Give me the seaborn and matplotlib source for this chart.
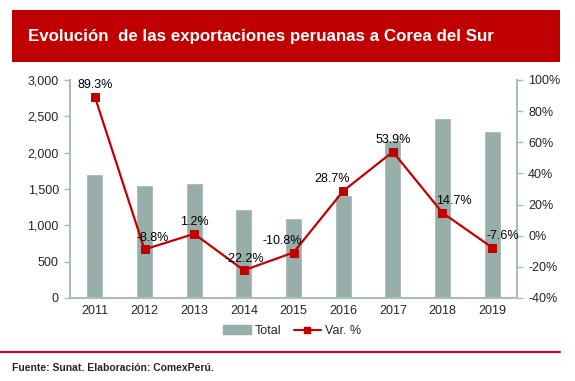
import numpy as np
import pandas as pd
import seaborn as sns
import matplotlib.pyplot as plt
from matplotlib.patches import Rectangle, Patch
from matplotlib.lines import Line2D

years = ['2011', '2012', '2013', '2014', '2015', '2016', '2017', '2018', '2019']
total = [1705, 1555, 1580, 1225, 1095, 1415, 2175, 2475, 2295]
var_pct = [89.3, -8.8, 1.2, -22.2, -10.8, 28.7, 53.9, 14.7, -7.6]
var_labels = ['89.3%', '-8.8%', '1.2%', '-22.2%', '-10.8%', '28.7%', '53.9%', '14.7%', '-7.6%']

BAR = '#97AEAA'
AXC = '#A8BCB8'
RED = '#C00000'

sns.set_theme(style='white')
plt.rcParams['font.family'] = ['Liberation Sans', 'DejaVu Sans']

df = pd.DataFrame({'Year': years, 'Total': total, 'Var': var_pct})

fig = plt.figure(figsize=(5.75, 3.81), dpi=100)
ax = fig.add_axes([70 / 575, 1 - 298 / 381, 447 / 575, 218 / 381])

sns.barplot(data=df, x='Year', y='Total', color=BAR, width=0.34, saturation=1, ax=ax)
ax.set_ylim(0, 3000)
ax.set_xlim(-0.5, len(years) - 0.5)
ax.set_yticks(range(0, 3001, 500))
ax.set_yticklabels([f'{v:,}' for v in range(0, 3001, 500)], fontsize=9)
ax.set_xlabel('')
ax.set_ylabel('')
ax.tick_params(axis='x', length=0, labelsize=9, pad=5)
ax.set_xticks(np.arange(len(years) + 1) - 0.5, minor=True)
ax.tick_params(axis='x', which='minor', length=4, color=AXC, width=1, direction='out')
ax.tick_params(axis='y', length=4, color=AXC, width=1, direction='out', pad=4)
for s in ['top', 'right']:
    ax.spines[s].set_visible(False)
for s in ['left', 'bottom']:
    ax.spines[s].set_color(AXC)
    ax.spines[s].set_linewidth(1.5)

ax2 = ax.twinx()
sns.lineplot(x=np.arange(len(years)), y=df['Var'], color=RED, marker='s', markersize=6,
             markeredgecolor=RED, linewidth=1.6, ax=ax2)
ax2.set_ylim(-40, 100)
ax2.set_yticks(range(-40, 101, 20))
ax2.set_yticklabels([f'{v}%' for v in range(-40, 101, 20)], fontsize=9)
ax2.set_ylabel('')
ax2.tick_params(axis='y', length=4, color=AXC, width=1, direction='out', pad=4)
for s in ['top', 'left', 'bottom']:
    ax2.spines[s].set_visible(False)
ax2.spines['right'].set_color(AXC)
ax2.spines['right'].set_linewidth(1.5)

offsets = [(0, 4), (6, 4), (0, 4), (0, 4), (-8, 4), (-8, 4), (0, 4), (8, 4), (8, 4)]
for i, (v, lab) in enumerate(zip(var_pct, var_labels)):
    ax2.annotate(lab, (i, v), xytext=offsets[i], textcoords='offset points',
                 ha='center', va='bottom', fontsize=9, color='black')

handles = [Patch(facecolor=BAR, edgecolor=BAR),
           Line2D([0], [0], color=RED, marker='s', markersize=5, linewidth=1.5)]
fig.legend(handles, ['Total', 'Var. %'], loc='center', bbox_to_anchor=(292 / 575, 1 - 331 / 381),
           ncol=2, frameon=False, fontsize=9, handlelength=2.2, columnspacing=1.0,
           handletextpad=0.3)

# title banner
fig.patches.append(Rectangle((12 / 575, 1 - 62 / 381), 548 / 575, 52 / 381,
                             transform=fig.transFigure, facecolor='#C00000',
                             edgecolor='none', zorder=0))
fig.text(28 / 575, 1 - 37 / 381, 'Evolución  de las exportaciones peruanas a Corea del Sur',
         color='white', fontsize=12.2, fontweight='bold', va='center', ha='left')

fig.add_artist(Line2D([0, 560 / 575], [1 - 352 / 381, 1 - 352 / 381],
                      transform=fig.transFigure, color='#D0021B', linewidth=1.5))
fig.text(12 / 575, 1 - 368 / 381, 'Fuente: Sunat. Elaboración: ComexPerú.',
         fontsize=7.5, fontweight='bold', va='center', ha='left')

fig.savefig('out.png', dpi=100)
